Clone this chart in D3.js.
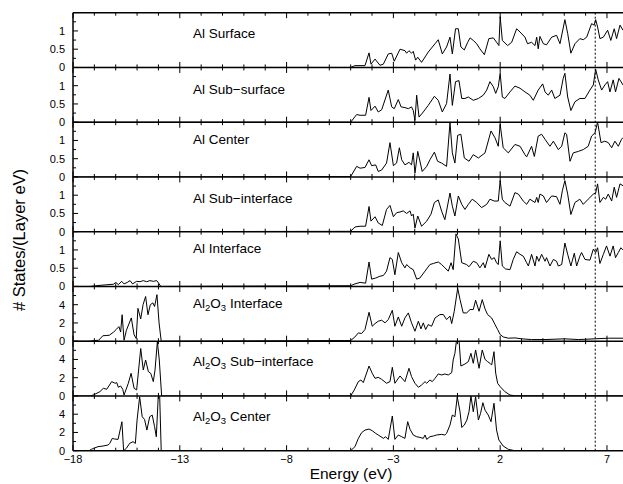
<!DOCTYPE html>
<html><head><meta charset="utf-8">
<script src="https://cdn.jsdelivr.net/npm/d3@7"></script>
<style>
html,body{margin:0;padding:0;background:#fff;}
svg{display:block;font-family:"Liberation Sans",Arial,Helvetica,sans-serif;}
</style></head>
<body><svg id="chart" width="623" height="484"></svg>
<script>
// ---------- DATA ----------
const panelTitles = ["Al Surface","Al Sub\u2212surface","Al Center","Al Sub\u2212interface","Al Interface",
  "Al2O3 Interface","Al2O3 Sub\u2212interface","Al2O3 Center"];
const xMajorTicks = [-18,-13,-8,-3,2,7];
const alYTicks = [0,0.5,1];
const alYMinor = [0.25,0.75,1.25];
const oxYTicks = [0,2,4];
const oxYMinor = [1,3,5];
const fermiLevel = 6.45;

const alSurface = [[-18,0],[-5.00,0],[-4.80,0.05],[-4.33,0.05],[-4.14,0.40],[-4.05,0.09],[-3.86,0.23],[-3.63,0.06],[-3.47,0.09],[-3.24,0.37],[-3.08,0.39],[-2.96,0.17],[-2.69,0.50],[-2.46,0.46],[-2.38,0.39],[-2.27,0.46],[-2.15,0.39],[-2.07,0.44],[-1.96,0.20],[-1.86,0.28],[-1.68,0.14],[-1.37,0.42],[-1.05,0.65],[-0.90,0.76],[-0.71,0.37],[-0.51,0.56],[-0.35,0.83],[-0.24,0.37],[-0.09,1.06],[0.04,1.06],[0.16,0.56],[0.32,0.48],[0.48,0.69],[0.59,0.81],[0.74,0.74],[0.90,0.65],[1.05,0.51],[1.26,0.35],[1.47,0.79],[1.68,0.81],[1.83,0.69],[1.94,0.60],[2.00,1.39],[2.10,0.74],[2.35,0.60],[2.54,0.69],[2.77,1.06],[2.93,0.97],[3.16,0.83],[3.28,0.65],[3.47,0.69],[3.63,0.60],[3.71,0.83],[3.78,0.51],[3.86,0.85],[4.02,0.65],[4.17,0.62],[4.41,0.83],[4.64,0.88],[4.80,0.65],[5.03,1.31],[5.16,0.93],[5.31,0.39],[5.50,0.65],[5.73,0.79],[5.89,0.76],[6.05,0.83],[6.28,1.20],[6.40,1.16],[6.47,1.31],[6.56,1.11],[6.67,0.79],[6.83,0.83],[7.03,1.02],[7.18,0.74],[7.34,1.06],[7.45,0.79],[7.61,1.16],[7.75,1.02]];

const alSubSurface = [[-18,0],[-5.00,0],[-4.72,0.21],[-4.56,0.19],[-4.30,0.19],[-4.14,0.68],[-4.05,0.32],[-3.86,0.44],[-3.71,0.28],[-3.55,0.34],[-3.24,0.88],[-3.08,0.42],[-2.96,0.37],[-2.77,0.62],[-2.64,0.42],[-2.46,0.40],[-2.30,0.37],[-2.15,0.42],[-2.07,0.32],[-1.99,0.05],[-1.91,0.74],[-1.80,0.14],[-1.60,0.28],[-1.37,0.46],[-1.08,0.71],[-0.90,0.60],[-0.71,0.28],[-0.51,0.51],[-0.35,1.32],[-0.24,0.46],[-0.09,1.11],[0.07,1.14],[0.20,0.65],[0.35,0.65],[0.51,0.69],[0.74,0.60],[0.98,0.65],[1.21,0.74],[1.37,0.88],[1.52,1.11],[1.68,0.97],[1.79,0.79],[1.91,0.97],[2.00,1.34],[2.10,0.69],[2.22,0.65],[2.46,0.83],[2.69,0.99],[2.93,0.93],[3.16,0.83],[3.39,0.74],[3.55,0.60],[3.78,0.88],[3.99,1.05],[4.10,0.83],[4.25,0.74],[4.41,0.88],[4.56,0.65],[4.80,0.74],[4.95,1.20],[5.03,1.34],[5.16,0.69],[5.31,0.32],[5.50,0.56],[5.73,0.65],[5.97,0.65],[6.20,0.88],[6.36,1.02],[6.47,1.45],[6.59,1.16],[6.75,0.88],[6.90,1.02],[7.03,1.11],[7.14,0.83],[7.29,1.16],[7.40,0.83],[7.56,1.20],[7.75,1.02]];

const alCenter = [[-18,0],[-5.00,0.01],[-4.72,0.29],[-4.56,0.24],[-4.33,0.26],[-4.14,0.47],[-4.02,0.31],[-3.83,0.33],[-3.71,0.15],[-3.55,0.19],[-3.32,0.38],[-3.16,0.94],[-3.00,0.31],[-2.85,0.38],[-2.72,0.80],[-2.61,0.47],[-2.46,0.33],[-2.27,0.40],[-2.15,0.33],[-2.07,0.66],[-1.99,0.10],[-1.86,0.70],[-1.65,0.15],[-1.44,0.29],[-1.29,0.47],[-1.08,0.68],[-0.93,0.43],[-0.74,0.38],[-0.51,0.29],[-0.35,1.49],[-0.24,0.66],[-0.12,0.38],[0.01,1.14],[0.16,1.17],[0.32,0.52],[0.54,0.43],[0.74,0.61],[0.98,0.52],[1.29,0.66],[1.57,1.26],[1.76,1.07],[1.91,0.84],[2.00,1.44],[2.14,0.80],[2.38,0.66],[2.69,0.89],[2.93,0.84],[3.16,0.61],[3.24,0.55],[3.47,0.84],[3.60,0.56],[3.78,1.12],[3.94,1.17],[4.10,1.03],[4.33,0.84],[4.49,0.98],[4.72,0.75],[4.88,0.84],[5.03,1.21],[5.11,1.17],[5.27,0.43],[5.42,0.66],[5.66,0.70],[5.89,0.75],[6.12,0.84],[6.28,1.12],[6.44,1.21],[6.56,1.50],[6.72,0.94],[6.90,0.98],[7.06,0.94],[7.22,0.80],[7.37,0.98],[7.53,0.84],[7.68,1.03],[7.75,1.08]];

const alSubInterface = [[-18,0],[-5.00,0.01],[-4.80,0.13],[-4.56,0.15],[-4.30,0.15],[-4.14,0.69],[-4.05,0.29],[-3.86,0.41],[-3.71,0.24],[-3.52,0.17],[-3.32,0.61],[-3.16,0.72],[-3.00,0.41],[-2.85,0.52],[-2.69,0.54],[-2.54,0.57],[-2.38,0.50],[-2.22,0.57],[-2.15,0.43],[-2.07,0.48],[-1.99,0.10],[-1.86,0.43],[-1.68,0.15],[-1.44,0.29],[-1.24,0.48],[-1.08,0.80],[-0.90,0.87],[-0.74,0.56],[-0.59,0.33],[-0.35,1.06],[-0.24,0.70],[-0.12,0.43],[0.04,0.98],[0.20,0.75],[0.35,0.61],[0.51,0.75],[0.69,0.89],[0.90,0.80],[1.13,0.66],[1.37,0.75],[1.52,0.89],[1.72,0.84],[1.91,0.84],[2.00,1.40],[2.10,0.89],[2.22,0.80],[2.46,0.70],[2.69,1.07],[2.85,1.03],[3.08,0.84],[3.24,0.75],[3.39,0.89],[3.63,0.80],[3.71,0.94],[3.78,0.80],[3.86,1.03],[4.02,0.98],[4.17,0.80],[4.41,0.98],[4.64,0.96],[4.80,0.75],[4.91,1.12],[5.03,1.40],[5.16,1.03],[5.31,0.47],[5.50,0.80],[5.73,0.89],[5.89,0.75],[6.12,0.89],[6.36,1.03],[6.47,1.06],[6.56,1.31],[6.67,0.80],[6.83,0.94],[6.94,0.89],[7.06,1.03],[7.22,0.84],[7.34,1.22],[7.45,0.94],[7.61,1.31],[7.75,1.26]];

const alInterface = [[-18,0],[-17.2,0],[-16.74,0.03],[-16.11,0.06],[-15.99,0.11],[-15.88,0.05],[-15.72,0.14],[-15.61,0.07],[-15.46,0.11],[-15.33,0.16],[-15.21,0.07],[-15.02,0.14],[-14.86,0.13],[-14.71,0.16],[-14.55,0.13],[-14.40,0.16],[-14.24,0.14],[-14.08,0.16],[-13.99,0.09],[-13.89,0.0],[-5.00,0.02],[-4.80,0.07],[-4.56,0.11],[-4.30,0.09],[-4.14,0.67],[-4.02,0.20],[-3.83,0.23],[-3.63,0.28],[-3.47,0.30],[-3.32,0.42],[-3.16,0.79],[-3.05,0.74],[-2.93,0.32],[-2.77,0.93],[-2.61,0.65],[-2.46,0.51],[-2.38,0.60],[-2.22,0.51],[-2.07,0.46],[-1.91,0.20],[-1.76,0.23],[-1.52,0.42],[-1.29,0.60],[-1.13,0.63],[-0.90,0.67],[-0.74,0.60],[-0.59,0.51],[-0.43,0.42],[-0.30,0.65],[-0.20,0.46],[-0.07,1.44],[0.04,1.30],[0.20,0.65],[0.43,0.60],[0.54,0.54],[0.74,0.69],[0.90,0.65],[1.05,0.51],[1.21,0.65],[1.29,0.51],[1.47,0.88],[1.60,0.74],[1.72,0.79],[1.83,0.65],[1.91,0.60],[2.00,1.25],[2.10,0.56],[2.25,0.48],[2.46,0.46],[2.61,0.74],[2.77,0.95],[2.93,0.88],[3.08,0.83],[3.24,0.65],[3.32,0.56],[3.47,0.88],[3.63,0.56],[3.71,0.83],[3.81,0.69],[3.94,0.88],[4.10,0.69],[4.17,0.79],[4.33,0.56],[4.49,0.74],[4.64,0.69],[4.72,0.56],[4.88,0.60],[5.03,1.19],[5.16,0.88],[5.31,0.56],[5.47,0.91],[5.58,0.56],[5.73,0.83],[5.81,0.93],[5.97,0.74],[6.20,0.72],[6.36,1.02],[6.47,0.93],[6.56,1.06],[6.67,0.63],[6.83,0.88],[6.98,1.11],[7.14,0.83],[7.29,1.11],[7.40,0.79],[7.53,0.93],[7.65,1.06],[7.75,1.00]];

const al2o3Interface = [[-18,0],[-17.2,0],[-17.03,0.07],[-16.8,0.1],[-16.6,0.6],[-16.45,0.62],[-16.3,0.65],[-16.1,1.0],[-15.97,1.3],[-15.85,1.6],[-15.77,1.0],[-15.7,2.9],[-15.61,0.1],[-15.5,1.2],[-15.27,2.55],[-15.14,0.7],[-15.04,0.3],[-14.96,3.6],[-14.83,2.45],[-14.72,4.0],[-14.6,4.9],[-14.49,2.9],[-14.38,4.0],[-14.26,4.2],[-14.18,3.8],[-14.07,5.1],[-13.97,2.0],[-13.87,0],[-5.00,0.07],[-4.80,0.47],[-4.64,0.91],[-4.49,0.84],[-4.33,1.28],[-4.14,3.17],[-3.99,1.64],[-3.86,1.93],[-3.71,2.19],[-3.55,2.30],[-3.39,2.01],[-3.24,2.37],[-3.05,3.39],[-2.93,1.64],[-2.77,2.66],[-2.61,1.64],[-2.46,2.55],[-2.30,3.10],[-2.15,2.01],[-1.99,1.09],[-1.83,2.19],[-1.71,1.35],[-1.60,2.01],[-1.49,1.28],[-1.37,1.82],[-1.21,1.64],[-1.05,2.55],[-0.82,2.92],[-0.66,2.92],[-0.51,2.37],[-0.35,2.74],[-0.27,1.93],[-0.15,3.28],[0.01,5.8],[0.12,4.56],[0.27,3.10],[0.43,3.10],[0.59,3.47],[0.74,3.47],[0.85,4.49],[1.01,3.28],[1.16,4.56],[1.29,3.54],[1.41,2.92],[1.60,2.55],[1.76,1.82],[1.88,1.28],[2.00,0.73],[2.14,0.47],[2.38,0.33],[2.69,0.36],[3.00,0.26],[3.47,0.18],[4.10,0.18],[5.03,0.26],[5.66,0.18],[6.44,0.26],[7.06,0.33],[7.75,0.33]];

const al2o3SubInterface = [[-18,0],[-17.2,0],[-17.05,0.1],[-16.74,0.47],[-16.58,0.84],[-16.42,0.73],[-16.19,1.57],[-16.03,1.39],[-15.95,1.46],[-15.88,0.95],[-15.77,1.09],[-15.67,0.73],[-15.61,0.1],[-15.41,1.39],[-15.28,2.48],[-15.14,0.84],[-15.02,0.66],[-14.83,5.2],[-14.71,2.85],[-14.60,3.94],[-14.47,2.66],[-14.36,2.48],[-14.24,1.57],[-14.16,2.85],[-14.05,5.95],[-13.96,3.94],[-13.85,0],[-5.00,0],[-4.83,0.66],[-4.64,1.57],[-4.52,1.75],[-4.41,1.46],[-4.14,3.28],[-3.99,2.48],[-3.86,1.93],[-3.71,2.04],[-3.55,1.82],[-3.32,1.39],[-3.16,1.57],[-3.05,3.14],[-2.93,1.39],[-2.69,2.19],[-2.46,1.57],[-2.27,3.03],[-2.15,2.12],[-1.99,1.39],[-1.83,0.95],[-1.68,1.20],[-1.52,1.57],[-1.44,1.39],[-1.29,1.75],[-1.18,1.57],[-1.05,1.93],[-0.90,2.41],[-0.74,2.30],[-0.59,2.41],[-0.43,2.30],[-0.27,2.55],[-0.20,3.94],[-0.12,4.67],[-0.04,6.2],[0.07,6.2],[0.16,3.28],[0.35,3.50],[0.51,3.76],[0.63,4.67],[0.74,3.58],[0.85,5.04],[1.01,3.03],[1.16,5.04],[1.29,4.01],[1.41,3.76],[1.52,3.58],[1.60,3.39],[1.71,4.85],[1.79,2.5],[1.88,1.39],[2.00,1.02],[2.22,0.47],[2.46,0.1],[2.69,0.02],[7.75,0.02]];

const al2o3Center = [[-18,0],[-17.25,0],[-17.14,0.15],[-17.03,0.26],[-16.83,0.44],[-16.60,0.51],[-16.36,0.62],[-16.28,0.80],[-16.16,1.35],[-16.05,1.28],[-15.89,1.24],[-15.71,3.17],[-15.63,0],[-15.50,0.26],[-15.35,0.80],[-15.19,0.99],[-15.08,0.80],[-15.00,3.36],[-14.88,5.9],[-14.76,3.72],[-14.65,3.43],[-14.54,2.26],[-14.41,3.72],[-14.29,3.9],[-14.18,2.63],[-14.10,1.53],[-14.01,5.9],[-13.94,5.9],[-13.87,0],[-5.00,0],[-4.80,0.44],[-4.64,1.35],[-4.49,1.97],[-4.33,2.26],[-4.14,2.37],[-3.99,2.19],[-3.83,1.90],[-3.71,1.72],[-3.58,1.53],[-3.47,1.35],[-3.36,1.53],[-3.24,1.24],[-3.05,3.80],[-2.93,1.24],[-2.77,1.72],[-2.61,1.53],[-2.46,1.35],[-2.33,3.18],[-2.22,2.34],[-2.07,1.72],[-1.91,1.53],[-1.76,1.46],[-1.60,1.35],[-1.52,1.72],[-1.44,1.24],[-1.29,1.53],[-1.13,1.61],[-0.98,1.72],[-0.74,1.79],[-0.59,1.72],[-0.51,1.90],[-0.35,2.81],[-0.24,3.91],[-0.12,3.72],[-0.01,5.9],[0.12,4.27],[0.20,2.55],[0.32,2.81],[0.44,3.36],[0.54,4.27],[0.63,6.0],[0.74,4.27],[0.85,5.9],[0.98,3.36],[1.08,4.09],[1.19,5.26],[1.29,4.45],[1.44,3.91],[1.57,3.18],[1.71,5.2],[1.83,2.26],[1.94,1.17],[2.14,0.51],[2.38,0.15],[2.69,0.0],[7.75,0.01]];

const panelSeries = [alSurface, alSubSurface, alCenter, alSubInterface, alInterface,
  al2o3Interface, al2o3SubInterface, al2o3Center];
const panelKinds = ["al","al","al","al","al","ox","ox","ox"];

// ---------- LAYOUT ----------
const plotLeft = 73, plotRight = 623, plotTop = 12.7, panelH = 54.75;
const labelX = 193;
const labelDy = [25, 27, 22, 25.7, 21.3, 21.6, 25, 25];

const svg = d3.select("#chart");
const x = d3.scaleLinear().domain([-18, 7.75]).range([plotLeft, plotRight]);
const xMinor = d3.range(-18, 8, 1);

const defs = svg.append("defs");

panelSeries.forEach((series, i) => {
  const y0 = plotTop + i * panelH, y1 = y0 + panelH;
  const isAl = panelKinds[i] === "al";
  const y = d3.scaleLinear().domain([0, isAl ? 1.5 : 6]).range([y1, y0]);
  const g = svg.append("g");

  defs.append("clipPath").attr("id", "clip" + i)
    .append("rect").attr("x", plotLeft).attr("y", y0).attr("width", plotRight - plotLeft).attr("height", panelH);

  const line = d3.line().x(d => x(d[0])).y(d => y(d[1]));
  g.append("path").datum(series).attr("d", line)
    .attr("clip-path", "url(#clip" + i + ")")
    .attr("fill", "none").attr("stroke", "#000").attr("stroke-width", 1)
    .attr("stroke-linejoin", "miter");

  xMinor.forEach(v => {
    const major = xMajorTicks.includes(v);
    const L = major ? 5.5 : 3;
    g.append("line").attr("x1", x(v)).attr("x2", x(v)).attr("y1", y1).attr("y2", y1 - L)
      .attr("stroke", "#000").attr("stroke-width", 1);
    g.append("line").attr("x1", x(v)).attr("x2", x(v)).attr("y1", y0).attr("y2", y0 + L)
      .attr("stroke", "#000").attr("stroke-width", 1);
  });

  const majors = isAl ? alYTicks : oxYTicks;
  const minors = isAl ? alYMinor : oxYMinor;
  majors.forEach(v => {
    g.append("line").attr("x1", plotLeft).attr("x2", plotLeft + 5).attr("y1", y(v)).attr("y2", y(v))
      .attr("stroke", "#000").attr("stroke-width", 1);
    g.append("text").attr("x", 65).attr("y", y(v)).attr("dy", "0.36em")
      .attr("text-anchor", "end").attr("font-size", 11).text(String(v));
  });
  minors.forEach(v => {
    g.append("line").attr("x1", plotLeft).attr("x2", plotLeft + 3).attr("y1", y(v)).attr("y2", y(v))
      .attr("stroke", "#000").attr("stroke-width", 1);
  });

  g.append("line").attr("x1", plotLeft).attr("x2", plotRight).attr("y1", y1).attr("y2", y1)
    .attr("stroke", "#000").attr("stroke-width", 1.5);

  const t = g.append("text").attr("x", labelX).attr("y", y0 + labelDy[i]).attr("font-size", 13.5);
  const title = panelTitles[i];
  if (title.startsWith("Al2O3")) {
    t.append("tspan").text("Al");
    t.append("tspan").attr("font-size", 9.5).attr("dy", 3).text("2");
    t.append("tspan").attr("dy", -3).text("O");
    t.append("tspan").attr("font-size", 9.5).attr("dy", 3).text("3");
    t.append("tspan").attr("dy", -3).text(title.slice(5));
  } else {
    t.text(title);
  }
});

svg.append("line").attr("x1", plotLeft).attr("x2", plotRight).attr("y1", plotTop).attr("y2", plotTop)
  .attr("stroke", "#000").attr("stroke-width", 1.5);
svg.append("line").attr("x1", plotLeft).attr("x2", plotLeft).attr("y1", plotTop).attr("y2", plotTop + 8 * panelH)
  .attr("stroke", "#000").attr("stroke-width", 1.5);

svg.append("line").attr("x1", x(fermiLevel)).attr("x2", x(fermiLevel))
  .attr("y1", plotTop).attr("y2", plotTop + 8 * panelH)
  .attr("stroke", "#000").attr("stroke-width", 1).attr("stroke-dasharray", "2,2");

const bottomY = plotTop + 8 * panelH;
xMajorTicks.forEach(v => {
  svg.append("text").attr("x", x(v)).attr("y", bottomY + 12)
    .attr("text-anchor", "middle").attr("font-size", 11)
    .text(v < 0 ? "\u2212" + Math.abs(v) : String(v));
});

svg.append("text").attr("x", (plotLeft + plotRight) / 2 + 3).attr("y", 479)
  .attr("text-anchor", "middle").attr("font-size", 15.5).text("Energy (eV)");
svg.append("text").attr("transform", "translate(25,240) rotate(-90)")
  .attr("text-anchor", "middle").attr("font-size", 16.5).text("# States/(Layer eV)");
</script></body></html>
